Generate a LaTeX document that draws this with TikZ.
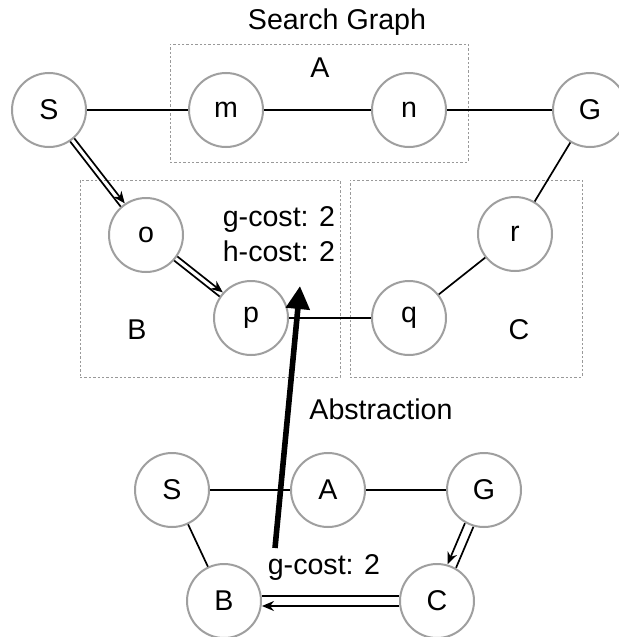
\documentclass[tikz,border=0pt]{standalone}
\usepackage{fontspec}
\setmainfont{Liberation Sans}
\usetikzlibrary{positioning,arrows.meta}

\tikzset{
	state/.style={circle, draw=gray!75, line width=1pt, fill=white, minimum size=37pt, inner sep=0pt},
	region/.style={rectangle, draw=gray!80, line width=0.4pt, dash pattern=on 1.2pt off 1pt, inner sep=0pt},
	edge/.style={line width=0.85pt},
	lbl/.style={inner sep=0pt}
}

% double path edge: from, to, side of the arrow line, half gap
\newcommand{\pathedge}[4]{
	\draw[edge, -{Stealth[length=6pt,width=5pt]}, transform canvas={shift={(#3:#4)}}] (#1) -- (#2);
	\draw[edge, transform canvas={shift={(#3+180:#4)}}] (#1) -- (#2);
}

\begin{document}
\begin{tikzpicture}[x=0.5pt, y=-0.5pt, font=\fontsize{14.3}{17.5}\selectfont]
	\useasboundingbox (0,0) rectangle (618,637);

	% regions of the search graph
	\node (boxA) [region, minimum width=149pt, minimum height=59pt] at (319,103) {};
	\node (boxB) [region, minimum width=130pt, minimum height=98.5pt] at (210,278.5) {};
	\node (boxC) [region, minimum width=116pt, minimum height=98.5pt] at (466,278.5) {};

	\node (title) [lbl] at (337,22) {Search Graph};
	\node (labA) [lbl] at (320,68) {A};
	\node (labB) [lbl] at (137,330) {B};
	\node (labC) [lbl] at (519,330) {C};
	\node (cost) [lbl, align=left] at (279,234) {g-cost: 2\\h-cost: 2};
	\node (abst) [lbl] at (381,409) {Abstraction};
	\node (gcost) [lbl] at (324,567) {g-cost: 2};

	% search graph
	\node (S) [state] at (49,110) {S};
	\node (m) [state] at (226,110) {m};
	\node (n) [state] at (409,110) {n};
	\node (G) [state] at (590,110) {G};
	\node (o) [state] at (146,235) {o};
	\node (r) [state] at (515,234) {r};
	\node (p) [state] at (251,318) {p};
	\node (q) [state] at (409,318) {q};

	\draw[edge] (S) -- (m);
	\draw[edge] (m) -- (n);
	\draw[edge] (n) -- (G);
	\draw[edge] (G) -- (r);
	\draw[edge] (r) -- (q);
	\draw[edge] (p) -- (q);
	\pathedge{S}{o}{38}{1.3pt}
	\pathedge{o}{p}{52}{1.3pt}

	% abstract graph
	\node (aS) [state] at (172,490) {S};
	\node (aA) [state] at (328,490) {A};
	\node (aG) [state] at (484,490) {G};
	\node (aB) [state] at (224,601) {B};
	\node (aC) [state] at (437,601) {C};

	\draw[edge] (aS) -- (aA);
	\draw[edge] (aA) -- (aG);
	\draw[edge] (aS) -- (aB);
	\pathedge{aG}{aC}{157}{2.3pt}
	\pathedge{aC}{aB}{270}{2.5pt}

	% abstraction arrow
	\coordinate (abstail) at (275,548);
	\coordinate (abshead) at (300,286);
	\draw[line width=2.8pt, -{Triangle[length=11.5pt,width=11.5pt]}] (abstail) -- (abshead);
\end{tikzpicture}
\end{document}
